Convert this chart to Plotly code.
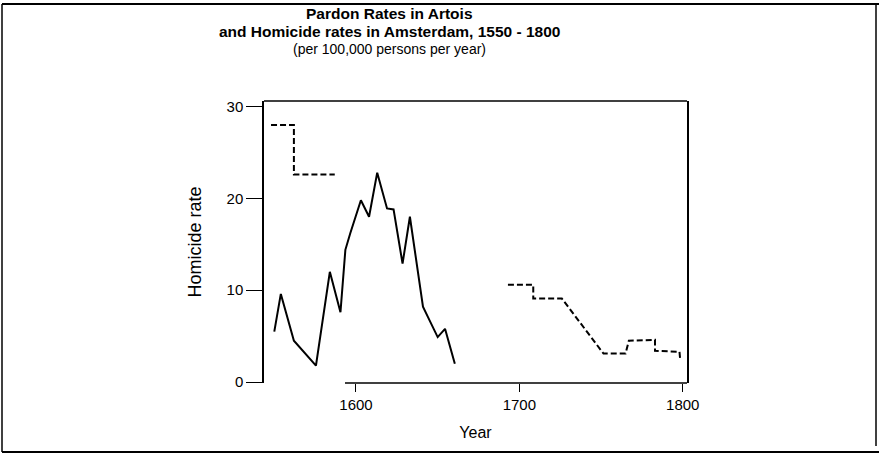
import plotly.graph_objects as go

# Amsterdam homicide rates (solid line)
amsterdam_years = [1550, 1554, 1562, 1575.5, 1584, 1590.5, 1593.5, 1596.5, 1603, 1608,
                   1613, 1619, 1623, 1628.5, 1633, 1641, 1644, 1650, 1654.5, 1660.5]
amsterdam_rates = [5.5, 9.6, 4.5, 1.8, 12.0, 7.6, 14.4, 16.2, 19.8, 18.0,
                   22.8, 18.9, 18.8, 12.9, 18.0, 8.2, 7.1, 4.9, 5.8, 2.0]

# Artois pardon rates (dashed line), two periods
pardon_years_early = [1548, 1562, 1562, 1587]
pardon_rates_early = [28.0, 28.0, 22.6, 22.6]
pardon_years_late = [1693, 1708.5, 1708.5, 1726, 1751.5, 1765, 1767, 1783, 1783, 1798, 1798.5]
pardon_rates_late = [10.6, 10.6, 9.1, 9.1, 3.1, 3.1, 4.5, 4.6, 3.4, 3.3, 2.3]

x_ticks = [1600, 1700, 1800]
y_ticks = [0, 10, 20, 30]

title_lines = ["Pardon Rates in Artois",
               "and Homicide rates in Amsterdam, 1550 - 1800",
               "(per 100,000 persons per year)"]

FONT = "Liberation Sans, Arial, sans-serif"

fig = go.Figure()
fig.add_trace(go.Scatter(x=amsterdam_years, y=amsterdam_rates, mode="lines",
                         line=dict(color="black", width=2), showlegend=False))
fig.add_trace(go.Scatter(x=pardon_years_early, y=pardon_rates_early, mode="lines",
                         line=dict(color="black", width=2, dash="6px,3px"), showlegend=False))
fig.add_trace(go.Scatter(x=pardon_years_late, y=pardon_rates_late, mode="lines",
                         line=dict(color="black", width=2, dash="6px,3px"), showlegend=False))

L, R, T, B = 264, 687, 101, 383
W, H = 879, 457
PW, PH = R - L, B - T


def px(xp):
    return (xp - L) / PW


def py(yp):
    return (B - yp) / PH


fig.update_layout(
    width=W, height=H, autosize=False,
    margin=dict(l=L, r=W - R, t=T, b=H - B),
    paper_bgcolor="white", plot_bgcolor="white",
    font=dict(family=FONT, size=15, color="black"),
    xaxis=dict(range=[1543.7, 1802.6], tickvals=x_ticks, ticks="outside", ticklen=8,
               tickcolor="black", showgrid=False, zeroline=False, showline=False,
               title=dict(text="Year", standoff=14, font=dict(size=16))),
    yaxis=dict(range=[-0.1, 30.6], tickvals=y_ticks, ticks="outside", ticklen=16,
               tickcolor="black", showgrid=False, zeroline=False, showline=True,
               linecolor="black", linewidth=1.5, mirror=True,
               title=dict(text="Homicide rate", standoff=20, font=dict(size=18))),
    shapes=[
        # top of plot frame
        dict(type="line", xref="paper", yref="paper", x0=0, x1=1, y0=1, y1=1,
             line=dict(color="black", width=1.5)),
        # partial bottom axis line
        dict(type="line", xref="paper", yref="paper", x0=px(345), x1=1, y0=0, y1=0,
             line=dict(color="black", width=1.5)),
        # outer page frame
        dict(type="line", xref="paper", yref="paper", x0=px(2), x1=px(879),
             y0=py(4), y1=py(4), line=dict(color="black", width=2)),
        dict(type="line", xref="paper", yref="paper", x0=px(2), x1=px(2),
             y0=py(4), y1=py(452), line=dict(color="black", width=1.5)),
        dict(type="line", xref="paper", yref="paper", x0=px(2), x1=px(879),
             y0=py(452), y1=py(452), line=dict(color="black", width=2)),
        dict(type="line", xref="paper", yref="paper", x0=px(876), x1=px(876),
             y0=py(4), y1=py(446), line=dict(color="black", width=1.5)),
    ],
)

title_y_px = [14, 31, 49]
title_sizes = [15.5, 15.5, 14]
for i, (txt, ypx, fs) in enumerate(zip(title_lines, title_y_px, title_sizes)):
    fig.add_annotation(text=("<b>%s</b>" % txt) if i < 2 else txt,
                       xref="paper", yref="paper", x=px(389), y=py(ypx),
                       xanchor="center", yanchor="middle", showarrow=False,
                       font=dict(family=FONT, size=fs, color="black"))

fig.write_html("out.html", config={"displayModeBar": False},
               post_script="document.body.style.margin='0px';")
